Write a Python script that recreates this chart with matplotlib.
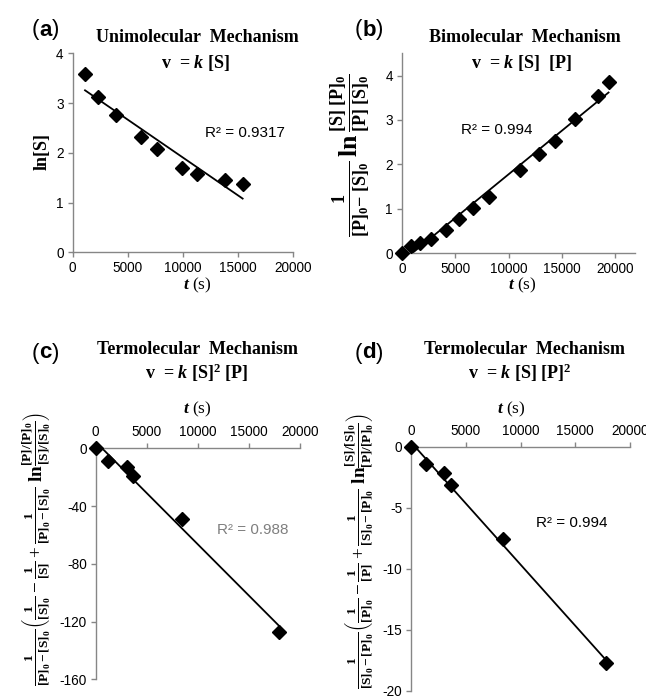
import numpy as np
import matplotlib
matplotlib.use("Agg")
import matplotlib.pyplot as plt

plt.rcParams['font.family'] = ['Liberation Sans', 'DejaVu Sans']
plt.rcParams['axes.unicode_minus'] = False
plt.rcParams['mathtext.fontset'] = 'custom'
plt.rcParams['mathtext.rm'] = 'Liberation Serif'
plt.rcParams['mathtext.it'] = 'Liberation Serif:italic'
plt.rcParams['mathtext.bf'] = 'Liberation Serif:bold'
plt.rcParams['mathtext.bfit'] = 'Liberation Serif:italic:bold'

# ---------------- data ----------------
t_a = [1120, 2330, 3970, 6210, 7700, 9940, 11270, 13820, 15450]
y_a = [3.59, 3.13, 2.75, 2.31, 2.07, 1.69, 1.57, 1.45, 1.37]

t_b = [0, 870, 1650, 2680, 4090, 5370, 6680, 8140, 11010, 12820, 14350, 16230, 18350, 19350]
y_b = [0.0, 0.165, 0.24, 0.316, 0.526, 0.767, 1.008, 1.256, 1.865, 2.226, 2.526, 3.015, 3.549, 3.85]

t_c = [0, 1240, 3030, 3620, 8420, 17950]
y_c = [0.0, -8.8, -13.2, -18.9, -48.7, -126.9]

t_d = [0, 1310, 2990, 3600, 8430, 17800]
y_d = [0.0, -1.42, -2.16, -3.14, -7.59, -17.74]

r2_labels = ["R² = 0.9317", "R² = 0.994", "R² = 0.988", "R² = 0.994"]
titles = ["Unimolecular  Mechanism", "Bimolecular  Mechanism",
          "Termolecular  Mechanism", "Termolecular  Mechanism"]
subtitles = [r"v  = $\boldsymbol{k}$ [S]", r"v  = $\boldsymbol{k}$ [S]  [P]",
             r"v  = $\boldsymbol{k}$ [S]$^{\mathbf{2}}$ [P]", r"v  = $\boldsymbol{k}$ [S] [P]$^{\mathbf{2}}$"]
panel_letters = ["a", "b", "c", "d"]
xticks = [0, 5000, 10000, 15000, 20000]
yticks_a = [0, 1, 2, 3, 4]
yticks_b = [0, 1, 2, 3, 4]
yticks_c = [0, -40, -80, -120, -160]
yticks_d = [0, -5, -10, -15, -20]

W, H = 646, 698
fig = plt.figure(figsize=(W / 100, H / 100), dpi=100)

def fx(px):
    return px / W

def fy(py):
    return 1 - py / H

SPINE = '#868686'
TICKFS = 9.8

def make_axes(l, r, t, b, top_axis=False):
    ax = fig.add_axes([fx(l), fy(b), fx(r) - fx(l), fy(t) - fy(b)])
    ax.set_facecolor('none')
    ax.spines['right'].set_visible(False)
    if top_axis:
        ax.spines['bottom'].set_visible(False)
        ax.xaxis.tick_top()
    else:
        ax.spines['top'].set_visible(False)
    for s in ax.spines.values():
        s.set_color(SPINE)
        s.set_linewidth(1.0)
    ax.tick_params(axis='both', direction='out', length=3.5, width=1.0,
                   color=SPINE, labelsize=TICKFS, pad=3)
    ax.set_xticks(xticks)
    ax.set_xticklabels([str(v) for v in xticks])
    return ax

def plot_data(ax, t, y):
    t = np.asarray(t, float)
    y = np.asarray(y, float)
    m, c = np.polyfit(t, y, 1)
    xs = np.array([t.min(), t.max()])
    ax.plot(xs, m * xs + c, color='black', lw=1.3, zorder=2)
    ax.plot(t, y, linestyle='none', marker='D', ms=6.8, color='black', zorder=3,
            clip_on=False)

# (a)
ax_a = make_axes(72.7, 292.7, 53.3, 252.3)
plot_data(ax_a, t_a, y_a)
ax_a.set_xlim(0, 20000)
ax_a.set_ylim(0, 4)
ax_a.set_yticks(yticks_a)

# (b)
ax_b = make_axes(402, 634.7, 53.3, 253.3)
plot_data(ax_b, t_b, y_b)
ax_b.set_xlim(0, 21800)
ax_b.set_ylim(0, 4.5)
ax_b.set_yticks(yticks_b)

# (c)
ax_c = make_axes(95.7, 300, 448.3, 679.3, top_axis=True)
plot_data(ax_c, t_c, y_c)
ax_c.set_xlim(0, 20000)
ax_c.set_ylim(-160, 0)
ax_c.set_yticks(yticks_c)

# (d)
ax_d = make_axes(411.3, 629.7, 446.7, 691, top_axis=True)
plot_data(ax_d, t_d, y_d)
ax_d.set_xlim(0, 20000)
ax_d.set_ylim(-20, 0)
ax_d.set_yticks(yticks_d)

# titles
title_pos = [(197, 38, 195, 63), (525, 38, 521, 63), (197, 350, 197, 373), (525, 350, 520, 373)]
for (x1, y1, x2, y2), t1, t2 in zip(title_pos, titles, subtitles):
    fig.text(fx(x1), fy(y1), t1, ha='center', va='center', fontsize=13,
             family='Liberation Serif', weight='bold')
    fig.text(fx(x2), fy(y2), t2, ha='center', va='center', fontsize=13,
             family='Liberation Serif', weight='bold')

# panel letters
letter_pos = [(32, 30), (355, 30), (32, 353), (355, 353)]
fig.canvas.draw()
for (x, y), L in zip(letter_pos, panel_letters):
    t = fig.text(fx(x), fy(y), "(", ha='left', va='center', fontsize=16)
    bb = t.get_window_extent(renderer=fig.canvas.get_renderer())
    t2 = fig.text(bb.x1 / W, fy(y), L, ha='left', va='center', fontsize=16, weight='bold')
    bb2 = t2.get_window_extent(renderer=fig.canvas.get_renderer())
    fig.text(bb2.x1 / W, fy(y), ")", ha='left', va='center', fontsize=16)

# x labels
xl = r"$\boldsymbol{t}$ (s)"
for x, y in [(197, 285), (522, 285), (197, 409), (511, 409)]:
    fig.text(fx(x), fy(y), xl, ha='center', va='center', fontsize=12.5,
             family='Liberation Serif')

# y labels
fig.text(fx(42), fy(152), "ln[S]", rotation=90, ha='center', va='center',
         fontsize=13, family='Liberation Serif', weight='bold')

lab_b = (r"$\frac{\mathbf{1}}{\mathbf{[P]_0\!-\,[S]_0}}\,\mathbf{ln}\,"
         r"\frac{\mathbf{[S]\ [P]_0}}{\mathbf{[P]\ [S]_0}}$")
fig.text(fx(351), fy(155), lab_b, rotation=90, ha='center', va='center', fontsize=18.5)

lab_c = (r"$\frac{\mathbf{1}}{\mathbf{[P]_0-[S]_0}}\left(\frac{\mathbf{1}}{\mathbf{[S]_0}}-"
         r"\frac{\mathbf{1}}{\mathbf{[S]}}+\frac{\mathbf{1}}{\mathbf{[P]_0-[S]_0}}\ \mathbf{ln}"
         r"\frac{\mathbf{[P]/[P]_0}}{\mathbf{[S]/[S]_0}}\right)$")
fig.text(fx(37), fy(412), lab_c, rotation=90, ha='center', va='top', fontsize=13.8)

lab_d = (r"$\frac{\mathbf{1}}{\mathbf{[S]_0-[P]_0}}\left(\frac{\mathbf{1}}{\mathbf{[P]_0}}-"
         r"\frac{\mathbf{1}}{\mathbf{[P]}}+\frac{\mathbf{1}}{\mathbf{[S]_0-[P]_0}}\ \mathbf{ln}"
         r"\frac{\mathbf{[S]/[S]_0}}{\mathbf{[P]/[P]_0}}\right)$")
fig.text(fx(360), fy(414), lab_d, rotation=90, ha='center', va='top', fontsize=13.8)

# R^2
r2_pos = [(205, 133, 'black'), (461, 130, 'black'), (217, 530, '#7f7f7f'), (536, 523, 'black')]
for (x, y, c), s in zip(r2_pos, r2_labels):
    fig.text(fx(x), fy(y), s, ha='left', va='center', fontsize=11, color=c)

fig.savefig("out.png", dpi=100)
